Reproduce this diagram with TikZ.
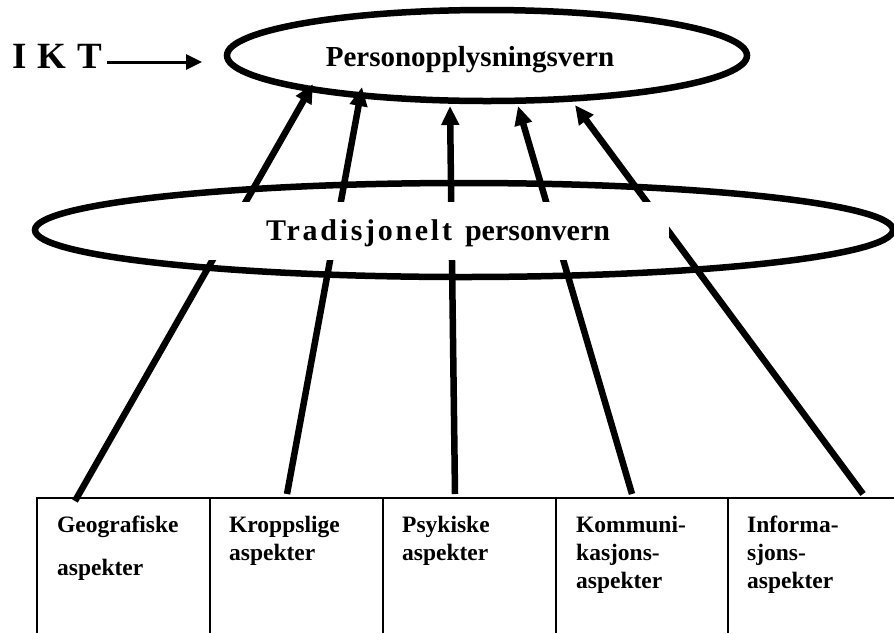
\documentclass[tikz,border=0pt]{standalone}
\usepackage{fontspec}
\setmainfont{Liberation Serif}
\usetikzlibrary{arrows.meta,shapes.geometric}
\begin{document}
\begin{tikzpicture}[x=1pt,y=-1pt,
  bigarrow/.style={line width=6.5pt, -{Triangle[length=19pt,width=17pt]}},
  oval/.style={draw, ellipse, line width=6.5pt, inner sep=0pt},
  gridline/.style={line width=2.6pt},
  cell/.style={anchor=base west, inner sep=0pt, font=\fontsize{23.5}{28}\selectfont\bfseries},
]
\useasboundingbox (0,0) rectangle (894,633);

% ellipses
\node[oval, minimum width=520pt, minimum height=91pt] (pv) at (487,55.5) {};
\node[oval, minimum width=858pt, minimum height=94pt] (tp) at (464,230) {};

% table
\draw[gridline] (37,633) -- (37,498) -- (894,498);
\foreach \x in {210,383,556,728} \draw[gridline] (\x,498) -- (\x,633);

\node[cell] (c1) at (57,532) {\parbox[t]{140pt}{\raggedright Geografiske\\[15pt]aspekter}};
\node[cell] (c2) at (229,532) {\parbox[t]{140pt}{\raggedright Kroppslige\\aspekter}};
\node[cell] (c3) at (402,532) {\parbox[t]{140pt}{\raggedright Psykiske\\aspekter}};
\node[cell] (c4) at (576,532) {\parbox[t]{140pt}{\raggedright Kommuni-\\kasjons-\\aspekter}};
\node[cell] (c5) at (747,532) {\parbox[t]{140pt}{\raggedright Informa-\\sjons-\\aspekter}};

% arrow ends
\coordinate (b1) at (75,501);  \coordinate (t1) at (313,84);
\coordinate (b2) at (287,494); \coordinate (t2) at (362,87);
\coordinate (b3) at (455,494); \coordinate (t3) at (450,106);
\coordinate (b4) at (632,494); \coordinate (t4) at (518,106);
\coordinate (b5) at (863,494); \coordinate (t5) at (575,105);

\draw[bigarrow] (b1) -- (t1);
\draw[bigarrow] (b2) -- (t2);
\draw[bigarrow] (b3) -- (t3);
\draw[bigarrow] (b4) -- (t4);
\draw[bigarrow] (b5) -- (t5);

% white band behind the middle text
\fill[white] (200,202) rectangle (669,260);

\node[anchor=base west, inner sep=0pt, font=\fontsize{30}{34}\selectfont\bfseries] (tpt) at (266,240)
  {{\addfontfeature{LetterSpace=9}Tradisjonelt}\hspace{13pt}personvern};

\node[anchor=base, inner sep=0pt, font=\fontsize{29}{33}\selectfont\bfseries] (pvt) at (470,66)
  {Personopplysningsvern};

% IKT
\node[anchor=base west, inner sep=0pt, font=\fontsize{37}{42}\selectfont\bfseries] (ikt) at (12,68) {I\hspace{2pt} K\hspace{2pt} T};
\coordinate (iktend) at (202,62);
\draw[line width=3pt, -{Triangle[length=16pt,width=15pt]}, shorten <=4pt] (ikt.east |- iktend) -- (iktend);
\end{tikzpicture}
\end{document}
